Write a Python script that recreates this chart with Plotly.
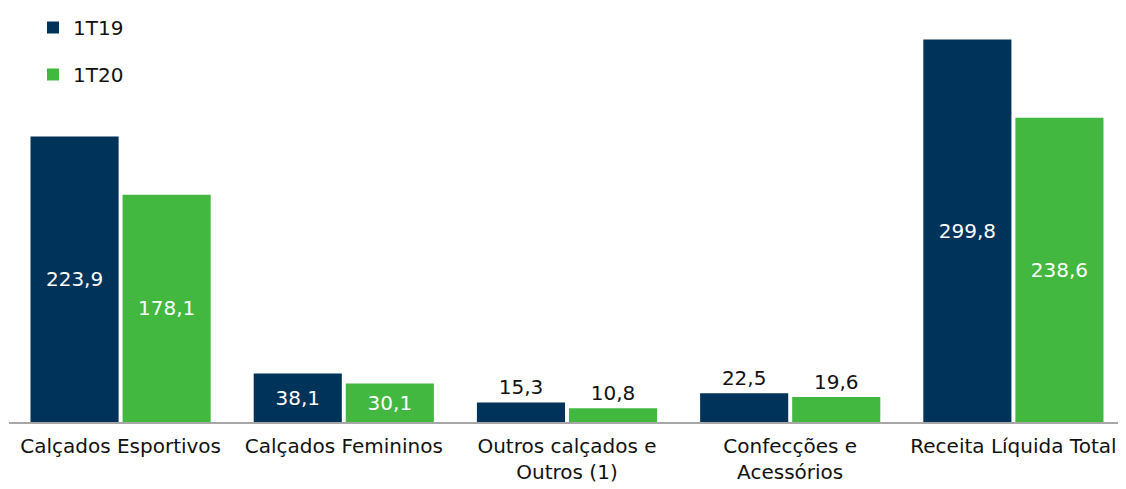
import plotly.graph_objects as go

# dados (R$ milhões)
categorias = [
    'Calçados Esportivos',
    'Calçados Femininos',
    'Outros calçados e<br>Outros (1)',
    'Confecções e<br>Acessórios',
    'Receita Líquida Total',
]
valores_1t19 = [223.9, 38.1, 15.3, 22.5, 299.8]
valores_1t20 = [178.1, 30.1, 10.8, 19.6, 238.6]

AZUL = '#00335a'
VERDE = '#43b840'
FONTE = 'DejaVu Sans'


def fmt(v):
    return f'{v:.1f}'.replace('.', ',')


def posicoes(vals):
    # rótulos dentro das barras grandes, acima das pequenas
    return ['inside' if v >= 25 else 'outside' for v in vals]


fig = go.Figure()

for nome, vals, cor in [('1T19', valores_1t19, AZUL), ('1T20', valores_1t20, VERDE)]:
    fig.add_trace(go.Bar(
        x=categorias,
        y=vals,
        name=nome,
        legendgroup=nome,
        marker={'color': cor, 'line': {'width': 0}},
        text=[fmt(v) for v in vals],
        textposition=posicoes(vals),
        insidetextanchor='middle',
        insidetextfont={'color': 'white', 'size': 20, 'family': FONTE},
        outsidetextfont={'color': '#111111', 'size': 20, 'family': FONTE},
        textangle=0,
        constraintext='none',
        cliponaxis=False,
    ))

# a página tem 8px de margem no body: compensado nas margens
fig.update_layout(
    width=1126,
    height=489,
    plot_bgcolor='white',
    paper_bgcolor='white',
    margin={'l': 1, 'r': 9, 't': 2, 'b': 75, 'autoexpand': False},
    barmode='group',
    bargap=0.175,
    bargroupgap=0.043,
    font={'family': FONTE, 'size': 20, 'color': '#111111'},
    showlegend=True,
    legend={
        'x': 0.0215, 'y': 1.0, 'yref': 'container',
        'xanchor': 'left', 'yanchor': 'top',
        'font': {'size': 20, 'color': '#111111', 'family': FONTE},
        'tracegroupgap': 18,
        'bgcolor': 'rgba(0,0,0,0)',
    },
    xaxis={
        'showline': True,
        'linecolor': '#a6a6a6',
        'linewidth': 2,
        'showgrid': False,
        'ticks': 'outside',
        'ticklen': 5,
        'tickcolor': 'white',
        'tickfont': {'size': 20, 'color': '#111111'},
    },
    yaxis={
        'visible': False,
        'range': [0, 323],
        'showgrid': False,
        'zeroline': False,
    },
)

fig.write_html('out.html')
